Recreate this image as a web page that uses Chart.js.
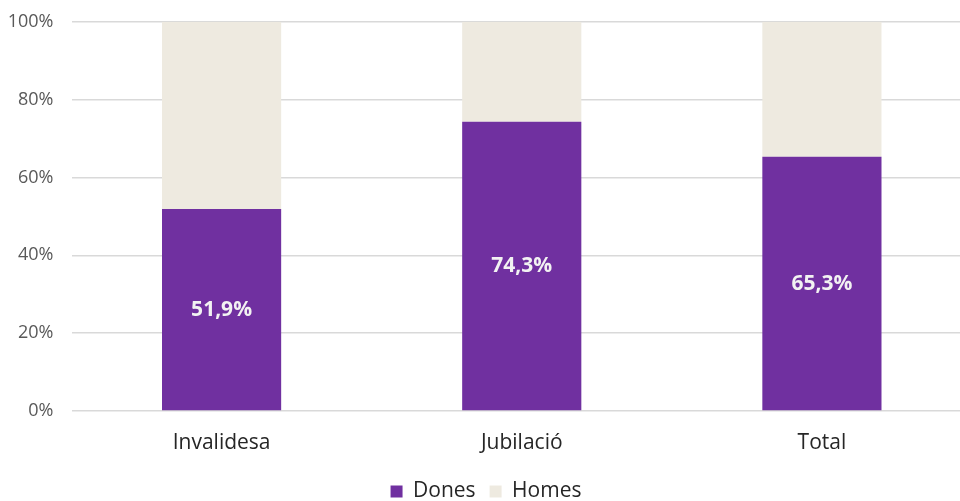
<!DOCTYPE html>
<html>
<head>
<meta charset="utf-8">
<script src="https://cdn.jsdelivr.net/npm/chart.js@4/dist/chart.umd.min.js"></script>
<style>
  html, body { margin: 0; padding: 0; background: #fff; overflow: hidden; }
  #wrap { position: relative; top: -7px; width: 972px; height: 519px; }
</style>
</head>
<body>
<div id="wrap"><canvas id="myChart"></canvas></div>
<script>
// dades
const categories = ['Invalidesa', 'Jubilació', 'Total'];
const dones = [51.9, 74.3, 65.3];
const homes = [48.1, 25.7, 34.7];
const yTicks = [0, 20, 40, 60, 80, 100];

const fontFamily = '"Open Sans", sans-serif';

// etiquetes dins les barres de Dones
const barLabels = {
    id: 'barLabels',
    afterDatasetsDraw(chart) {
        const ctx = chart.ctx;
        const meta = chart.getDatasetMeta(0);
        ctx.save();
        ctx.font = 'bold 21px ' + fontFamily;
        ctx.fillStyle = '#F2F2F2';
        ctx.textAlign = 'center';
        ctx.textBaseline = 'middle';
        meta.data.forEach((bar, i) => {
            const y = (bar.y + bar.base) / 2;
            ctx.fillText(dones[i].toFixed(1).replace('.', ',') + '%', bar.x, y);
        });
        ctx.restore();
    }
};

const ctx = document.getElementById('myChart').getContext('2d');
new Chart(ctx, {
    type: 'bar',
    data: {
        labels: categories,
        datasets: [
            {
                label: 'Dones',
                data: dones,
                backgroundColor: '#7030A0',
                categoryPercentage: 1,
                barPercentage: 0.397
            },
            {
                label: 'Homes',
                data: homes,
                backgroundColor: '#EEEAE0',
                categoryPercentage: 1,
                barPercentage: 0.397
            }
        ]
    },
    options: {
        responsive: true,
        maintainAspectRatio: false,
        animation: false,
        layout: { padding: 0 },
        scales: {
            x: {
                stacked: true,
                grid: { display: false },
                border: { display: false },
                afterFit(scale) { scale.height = 56; },
                ticks: { color: '#262626', font: { size: 21, family: fontFamily }, padding: 11 }
            },
            y: {
                stacked: true,
                min: 0,
                max: 100,
                afterFit(scale) { scale.width = 71.5; },
                afterBuildTicks(scale) { scale.ticks = yTicks.map(v => ({ value: v })); },
                grid: { color: '#D9D9D9', lineWidth: 1.5, drawTicks: false },
                border: { display: false },
                ticks: {
                    color: '#595959',
                    font: { size: 18, family: fontFamily },
                    padding: 18,
                    callback: v => v + '%'
                }
            }
        },
        plugins: {
            legend: {
                position: 'bottom',
                labels: {
                    color: '#262626',
                    font: { size: 21, family: fontFamily },
                    boxWidth: 12,
                    boxHeight: 12,
                    padding: 14
                }
            },
            tooltip: { enabled: false }
        }
    },
    plugins: [barLabels]
});
</script>
</body>
</html>
